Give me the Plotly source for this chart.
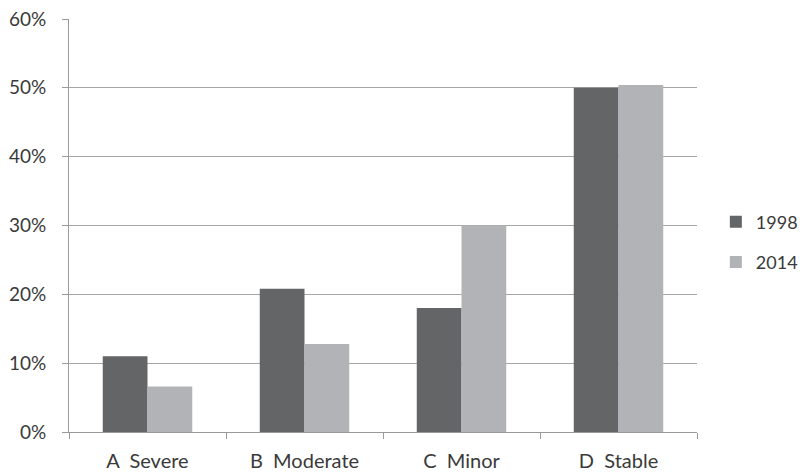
import plotly.graph_objects as go

categories = ["A  Severe", "B  Moderate", "C  Minor", "D  Stable"]
series_names = ["1998", "2014"]
values_1998 = [0.11, 0.208, 0.18, 0.50]
values_2014 = [0.066, 0.128, 0.30, 0.504]
y_ticks = [0, 0.1, 0.2, 0.3, 0.4, 0.5, 0.6]
y_tick_labels = ["0%", "10%", "20%", "30%", "40%", "50%", "60%"]

colors = ["#646567", "#b2b3b6"]
font_family = "Lato, 'Open Sans', sans-serif"
text_color = "#3a3a3a"

fig = go.Figure()
for i, (name, vals) in enumerate(zip(series_names, [values_1998, values_2014])):
    fig.add_trace(go.Bar(
        x=categories, y=vals, name=name,
        marker=dict(color=colors[i], line=dict(width=0)),
        legendgroup=name,
    ))

fig.update_layout(
    width=800, height=472,
    margin=dict(l=69, r=103, t=19, b=40, autoexpand=False),
    paper_bgcolor="white", plot_bgcolor="white",
    barmode="group", bargap=0.43, bargroupgap=0,
    font=dict(family=font_family, size=19, color=text_color),
    legend=dict(x=1.030, y=0.46, xanchor="left", yanchor="middle",
                font=dict(size=18, color=text_color),
                tracegroupgap=14, traceorder="grouped",
                bgcolor="rgba(0,0,0,0)"),
    showlegend=True,
)
fig.update_xaxes(
    automargin=False,
    showline=True, linecolor="#9a9a9a", linewidth=1,
    ticks="outside", tickson="boundaries", ticklen=6, tickcolor="#9a9a9a",
    showgrid=False, tickfont=dict(size=20, color=text_color),
    ticklabelstandoff=11,
)
fig.update_yaxes(
    automargin=False,
    range=[0, 0.6], tickvals=y_ticks, ticktext=y_tick_labels,
    showline=True, linecolor="#9a9a9a", linewidth=1,
    ticks="outside", ticklen=6, tickcolor="#9a9a9a",
    showgrid=True, gridcolor="#a6a6a6", gridwidth=1,
    zeroline=False, tickfont=dict(size=19, color=text_color),
    ticklabelstandoff=12,
)

fig.write_html(
    "out.html",
    config={"displayModeBar": False},
    post_script="document.body.style.margin='0';document.body.style.overflow='hidden';",
)
